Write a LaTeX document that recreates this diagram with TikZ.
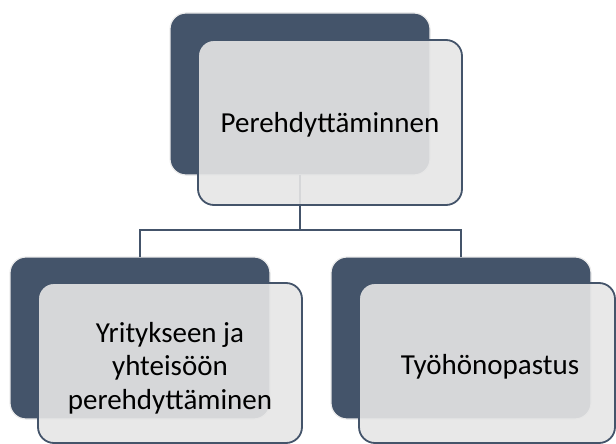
\documentclass[tikz,border=0pt]{standalone}
\usepackage{fontspec}
\setmainfont{Carlito}
\definecolor{darkblue}{RGB}{68,84,106}
\definecolor{lightg}{RGB}{230,230,230}
\definecolor{edgeg}{RGB}{236,236,236}
\begin{document}
\begin{tikzpicture}[x=1pt,y=-1pt,
  backbox/.style={draw=edgeg, line width=1.2pt, fill=darkblue, rounded corners=16pt,
    minimum width=260pt, minimum height=162pt, inner sep=0pt, outer sep=0pt, anchor=north west},
  frontbox/.style={draw=darkblue, line width=1.8pt, fill=lightg, fill opacity=0.9, text opacity=1,
    rounded corners=16pt, minimum width=264pt, minimum height=160pt, inner sep=0pt, outer sep=0pt,
    anchor=north west},
  label/.style={align=center, text=black, inner sep=0pt, font=\fontsize{29}{33.5}\selectfont},
  conn/.style={draw=darkblue, line width=2pt}]
\useasboundingbox (0,0) rectangle (616,444);
% back boxes
\node[backbox] (topback) at (170,13) {};
\node[backbox] (leftback) at (10,257) {};
\node[backbox] (rightback) at (331,257) {};
% connectors
\draw[conn] (topback.south) -- ++(0,55) coordinate (junction) -| (leftback.north);
\draw[conn] (junction) -| (rightback.north);
% front boxes
\node[frontbox, minimum height=165pt] (topfront) at (198,40) {};
\node[frontbox] (leftfront) at (38,283) {};
\node[frontbox, minimum width=256pt] (rightfront) at (359,283) {};
% texts
\node[label] (toptext) at ([yshift=-2pt]topfront.center) {Perehdyttäminnen};
\node[label] (lefttext) at ([yshift=-5pt]leftfront.center) {Yritykseen ja\\yhteisöön\\perehdyttäminen};
\node[label] (righttext) at ([xshift=3pt,yshift=-4pt]rightfront.center) {Työhönopastus};
\end{tikzpicture}
\end{document}
